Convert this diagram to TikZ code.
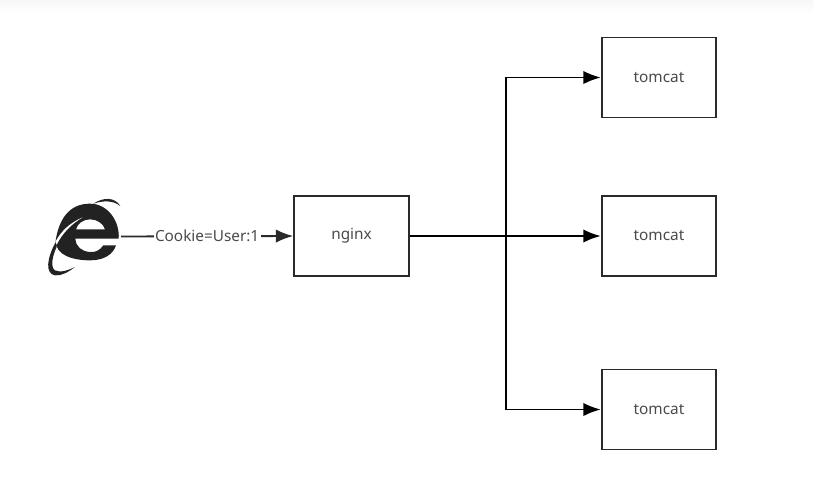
\documentclass[tikz,border=0pt]{standalone}
\usepackage{fontspec}
\setmainfont{Noto Sans}
\usetikzlibrary{positioning,shapes,arrows.meta}
\definecolor{linedark}{HTML}{2A2A2A}
\definecolor{textgray}{HTML}{4A4A4A}
\definecolor{icondark}{HTML}{222222}
\tikzset{
    serverbox/.style={draw=linedark, line width=1.4pt, fill=white, minimum width=86pt, minimum height=60pt, text=textgray, font=\fontsize{11.5}{14}\selectfont, inner sep=0pt},
    link/.style={draw=black, line width=1.4pt, -{Latex[length=13pt,width=10pt]}},
}
\begin{document}
\begin{tikzpicture}[x=0.75pt, y=-0.75pt]
    \useasboundingbox (0,0) rectangle (813,483);
    % Strip along the top edge
    \shade[top color=black!3, bottom color=white] (0,0) rectangle (813,14);

    % Browser icon
    \begin{scope}[shift={(40,192)}, x=0.25pt, y=-0.25pt]
        \fill[icondark, even odd rule] (236,140) .. controls (240,90) and (205,35) .. (150,35)
            .. controls (100,35) and (60,65) .. (47,145)
            .. controls (45,190) and (100,205) .. (150,205)
            .. controls (195,205) and (220,185) .. (228,160)
            -- (190,160) .. controls (180,175) and (165,182) .. (150,180)
            .. controls (125,178) and (108,165) .. (106,140) -- cycle
            (108,112) .. controls (112,95) and (130,82) .. (150,82)
            .. controls (172,82) and (190,95) .. (195,112) -- cycle;
        % Slash through the letter
        \fill[white] (45,152) .. controls (62,118) and (90,92) .. (128,76)
            .. controls (95,96) and (68,122) .. (50,158) -- cycle;
        % Ring around the letter
        \fill[icondark] (47,150) .. controls (20,200) and (15,245) .. (45,250)
            .. controls (65,252) and (85,240) .. (105,225)
            .. controls (85,235) and (60,243) .. (45,235)
            .. controls (30,225) and (38,190) .. (50,165) -- cycle;
        \fill[icondark] (241,42) .. controls (225,15) and (190,15) .. (160,35)
            .. controls (190,25) and (220,25) .. (241,42) -- cycle;
    \end{scope}
    \coordinate (browser) at (121,236.5);

    % Boxes
    \node[serverbox] (nginx) at (351.5,236) {nginx};
    \node[serverbox] (tomcatA) at (659,77.5) {tomcat};
    \node[serverbox] (tomcatB) at (659,236) {tomcat};
    \node[serverbox] (tomcatC) at (659,409.5) {tomcat};

    % Request from the browser
    \draw[link, draw=linedark] (browser) -- node[fill=white, text=textgray, inner sep=1pt, font=\fontsize{11.5}{14}\selectfont] (cookie) {Cookie=User:1} (nginx.west);

    % Nginx to each tomcat
    \draw[link] (nginx.east) -- (tomcatB.west);
    \draw[line width=1.8pt] (nginx.east) -- ++(96,0);
    \draw[link] (nginx.east) -| ++(96,-158.5) -- (tomcatA.west);
    \draw[link] (nginx.east) -| ++(96,173.5) -- (tomcatC.west);
\end{tikzpicture}
\end{document}
